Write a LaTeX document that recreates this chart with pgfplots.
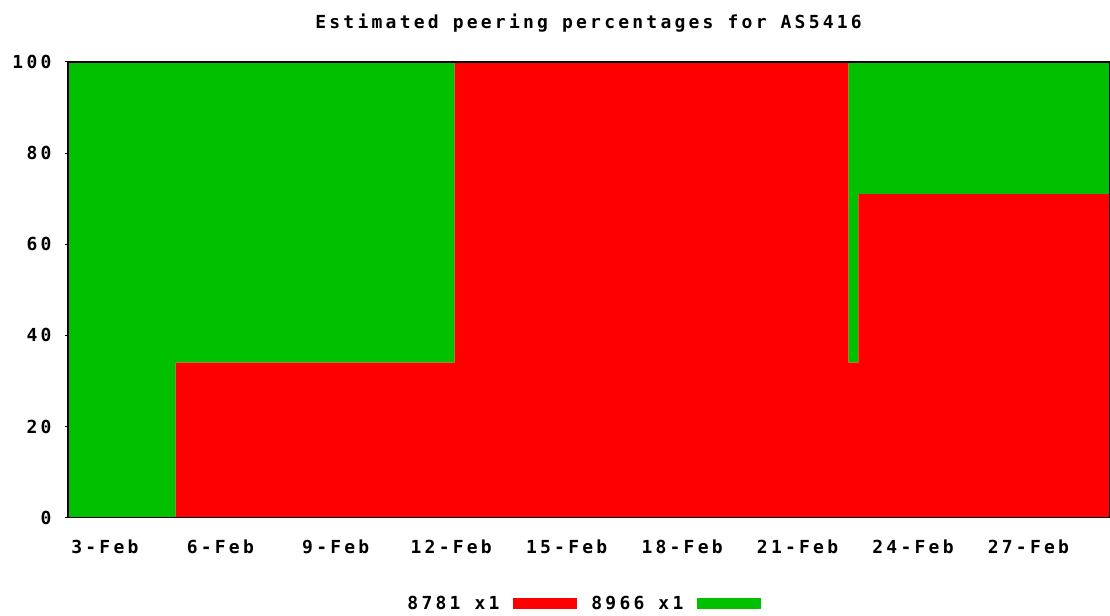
\documentclass[border=0pt]{standalone}
\usepackage{fontspec}
\setmainfont{DejaVu Sans Mono}[LetterSpace=18]
\usepackage{pgfplots}
\pgfplotsset{compat=1.18}
\definecolor{cred}{RGB}{255,0,0}
\definecolor{cgreen}{RGB}{0,192,0}
\begin{document}
\begin{tikzpicture}
\begin{axis}[
  scale only axis,
  width=1042bp, height=456bp,
  xmin=2.04, xmax=29.1, ymin=0, ymax=100,
  axis line style={line width=1.5bp, black},
  stack plots=y,
  area style,
  xtick={3,6,9,12,15,18,21,24,27},
  xticklabels={3-Feb,6-Feb,9-Feb,12-Feb,15-Feb,18-Feb,21-Feb,24-Feb,27-Feb},
  ytick={0,20,40,60,80,100},
  ytick pos=left,
  x tick style={draw=none},
  y tick style={black, line width=1bp},
  tick align=outside,
  major tick length=3bp,
  axis on top,
  /pgf/number format/assume math mode=true,
  tick label style={font=\fontsize{18bp}{20bp}\selectfont\bfseries},
  xticklabel style={yshift=-16bp},
  yticklabel style={xshift=-10bp},
  title={Estimated peering percentages for AS5416},
  title style={font=\fontsize{18bp}{20bp}\selectfont\bfseries, yshift=20bp},
  legend plot pos=right,
  legend columns=2,
  legend style={draw=none, fill=none, at={(0.495,-0.189)}, anchor=center,
    font=\fontsize{18bp}{20bp}\selectfont\bfseries,
    /tikz/column sep=12bp},
  legend image code/.code={\fill[#1] (0bp,-5bp) rectangle (64bp,6bp);},
]
\addplot[fill=cred, draw=none, const plot] coordinates {
  (2.04,0) (4.84,34) (12.09,100) (22.32,34) (22.58,71) (29.1,71)
} \closedcycle;
\addlegendentry{8781 x1}
\addplot[fill=cgreen, draw=none, const plot] coordinates {
  (2.04,100) (4.84,66) (12.09,0) (22.32,66) (22.58,29) (29.1,29)
} \closedcycle;
\addlegendentry{8966 x1}
\end{axis}
\path ([xshift=-68bp,yshift=-96bp]current axis.south west) rectangle ([yshift=62bp]current axis.north east);
\end{tikzpicture}
\end{document}
